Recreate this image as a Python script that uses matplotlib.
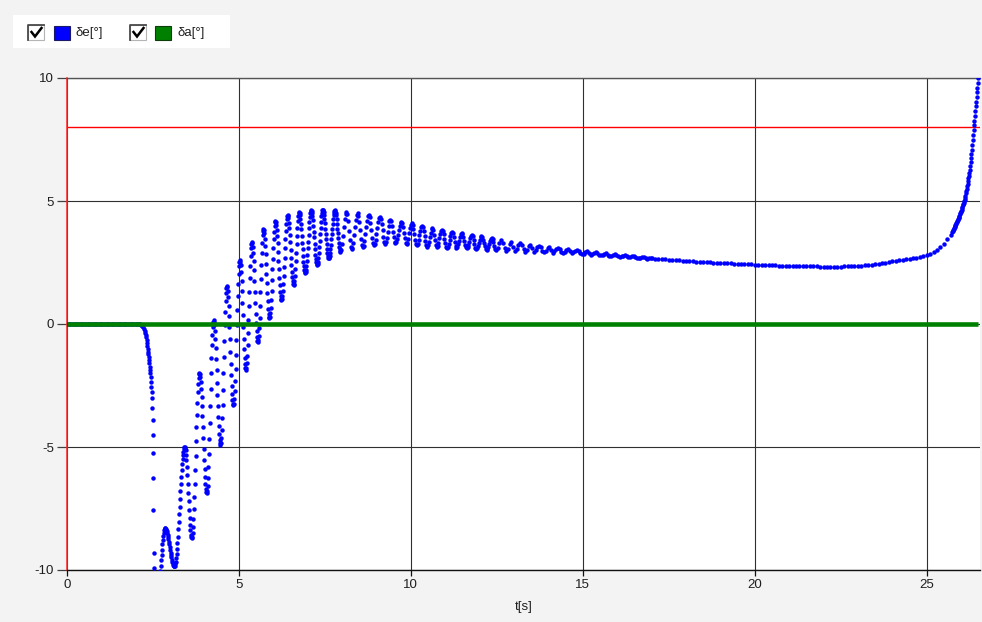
import matplotlib
matplotlib.use("Agg")
import matplotlib.pyplot as plt
from matplotlib.patches import Rectangle
from matplotlib.lines import Line2D
import numpy as np

plt.rcParams['font.family'] = ['Liberation Sans', 'DejaVu Sans']
plt.rcParams['axes.unicode_minus'] = False

# δe[°] samples, kept per stretch of the run with its own sampling step
de_rest = [0.0] * 43  # 0 .. 2.1 s, step 0.05

t_drop = [2.12, 2.16, 2.19, 2.22, 2.24, 2.26, 2.28, 2.295, 2.305, 2.315,
          2.325, 2.335, 2.345, 2.355, 2.365, 2.375, 2.385, 2.395, 2.405, 2.415,
          2.425, 2.435, 2.445, 2.455, 2.465, 2.475, 2.485, 2.49, 2.495, 2.50,
          2.505, 2.51, 2.52, 2.54]
de_drop = [-0.02, -0.05, -0.09, -0.14, -0.2, -0.27, -0.35, -0.44, -0.54, -0.65,
           -0.77, -0.89, -1.01, -1.13, -1.23, -1.33, -1.46, -1.60, -1.73, -1.87,
           -2.00, -2.14, -2.34, -2.55, -2.75, -3.02, -3.43, -3.90, -4.51, -5.26,
           -6.27, -7.56, -9.32, -9.92]

# from 2.575 s, step 0.0125
de_osc = [
    -10.30, -10.34, -10.44, -10.56, -10.66, -10.70,
    -10.68, -10.62, -10.52, -10.39, -10.22, -10.04, -9.83, -9.61, -9.39, -9.17, -8.96, -8.78, -8.61, -8.48, -8.38, -8.32, -8.30,
    -8.31, -8.33, -8.37, -8.42, -8.49, -8.57, -8.66, -8.75, -8.86, -8.96, -9.08, -9.19, -9.29, -9.40, -9.49, -9.58, -9.66, -9.73, -9.78, -9.82, -9.84, -9.85,
    -9.83, -9.77, -9.67, -9.53, -9.35, -9.14, -8.90, -8.64, -8.35, -8.05, -7.74, -7.43, -7.11, -6.80, -6.50, -6.21, -5.95, -5.71, -5.50, -5.33, -5.19, -5.08, -5.02, -5.00,
    -5.04, -5.14, -5.31, -5.54, -5.82, -6.14, -6.49, -6.85, -7.21, -7.56, -7.88, -8.16, -8.39, -8.56, -8.66, -8.70,
    -8.65, -8.50, -8.25, -7.92, -7.50, -7.03, -6.50, -5.93, -5.35, -4.77, -4.20, -3.68, -3.20, -2.78, -2.45, -2.20, -2.05, -2.00,
    -2.04, -2.16, -2.36, -2.63, -2.97, -3.34, -3.76, -4.20, -4.65, -5.09, -5.51, -5.89, -6.22, -6.49, -6.69, -6.81, -6.85,
    -6.78, -6.58, -6.26, -5.83, -5.30, -4.69, -4.04, -3.35, -2.66, -2.01, -1.40, -0.87, -0.44, -0.12, 0.08, 0.15,
    0.10, -0.04, -0.27, -0.59, -0.97, -1.41, -1.88, -2.38, -2.87, -3.34, -3.78, -4.16, -4.48, -4.71, -4.85, -4.90,
    -4.83, -4.62, -4.29, -3.84, -3.29, -2.68, -2.01, -1.34, -0.68, -0.06, 0.49, 0.94, 1.27, 1.48, 1.55,
    1.50, 1.34, 1.09, 0.75, 0.34, -0.12, -0.62, -1.13, -1.63, -2.09, -2.50, -2.84, -3.09, -3.25, -3.30,
    -3.24, -3.05, -2.74, -2.33, -1.83, -1.26, -0.66, -0.04, 0.56, 1.13, 1.63, 2.04, 2.35, 2.54, 2.60,
    2.54, 2.38, 2.11, 1.76, 1.34, 0.87, 0.38, -0.12, -0.59, -1.01, -1.37, -1.63, -1.79, -1.85,
    -1.79, -1.59, -1.29, -0.87, -0.38, 0.17, 0.74, 1.32, 1.86, 2.35, 2.77, 3.07, 3.27, 3.33,
    3.28, 3.13, 2.89, 2.56, 2.18, 1.75, 1.30, 0.85, 0.42, 0.04, -0.29, -0.53, -0.68, -0.73,
    -0.66, -0.47, -0.15, 0.26, 0.75, 1.29, 1.84, 2.38, 2.87, 3.28, 3.60, 3.79, 3.86,
    3.81, 3.68, 3.47, 3.18, 2.84, 2.45, 2.05, 1.65, 1.26, 0.92, 0.63, 0.42, 0.29, 0.24,
    0.29, 0.44, 0.67, 0.99, 1.36, 1.78, 2.22, 2.65, 3.07, 3.44, 3.76, 3.99, 4.14, 4.19,
    4.15, 4.03, 3.84, 3.58, 3.28, 2.94, 2.58, 2.22, 1.88, 1.58, 1.32, 1.13, 1.01, 0.97,
    1.01, 1.14, 1.35, 1.62, 1.95, 2.32, 2.70, 3.08, 3.45, 3.78, 4.05, 4.26, 4.39, 4.43,
    4.39, 4.29, 4.12, 3.89, 3.63, 3.33, 3.01, 2.69, 2.39, 2.13, 1.90, 1.73, 1.63, 1.59,
    1.63, 1.76, 1.96, 2.23, 2.55, 2.89, 3.25, 3.59, 3.91, 4.18, 4.38, 4.51, 4.55,
    4.52, 4.43, 4.28, 4.08, 3.85, 3.59, 3.31, 3.03, 2.77, 2.54, 2.34, 2.19, 2.10, 2.07,
    2.10, 2.20, 2.35, 2.55, 2.79, 3.07, 3.35, 3.63, 3.91, 4.15, 4.35, 4.50, 4.60, 4.63,
    4.60, 4.52, 4.39, 4.21, 4.00, 3.76, 3.52, 3.27, 3.03, 2.82, 2.64, 2.51, 2.43, 2.40,
    2.43, 2.53, 2.68, 2.89, 3.13, 3.39, 3.66, 3.92, 4.16, 4.37, 4.52, 4.62, 4.65,
    4.63, 4.55, 4.44, 4.28, 4.09, 3.88, 3.67, 3.45, 3.24, 3.05, 2.89, 2.78, 2.70, 2.68,
    2.70, 2.78, 2.89, 3.05, 3.23, 3.44, 3.66, 3.87, 4.08, 4.26, 4.42, 4.53, 4.61, 4.63,
    4.61, 4.53, 4.42, 4.26, 4.08, 3.88, 3.68, 3.48, 3.30, 3.14, 3.03, 2.95, 2.93,
]

# from 7.975 s, step 0.025
de_mid = [
    3.01, 3.24, 3.56, 3.93, 4.25, 4.48, 4.56,
    4.46, 4.18, 3.80, 3.41, 3.13, 3.03,
    3.10, 3.31, 3.60, 3.93, 4.22, 4.43, 4.50,
    4.41, 4.16, 3.82, 3.47, 3.22, 3.13,
    3.19, 3.38, 3.64, 3.93, 4.19, 4.37, 4.43,
    4.35, 4.12, 3.82, 3.51, 3.28, 3.20,
    3.26, 3.42, 3.65, 3.90, 4.13, 4.29, 4.35,
    4.28, 4.08, 3.81, 3.54, 3.34, 3.27,
    3.33, 3.51, 3.75, 3.99, 4.17, 4.23,
    4.17, 4.00, 3.76, 3.53, 3.35, 3.29,
    3.33, 3.45, 3.62, 3.82, 3.99, 4.11, 4.15,
    4.09, 3.93, 3.70, 3.48, 3.31, 3.25,
    3.31, 3.46, 3.68, 3.89, 4.04, 4.10,
    4.04, 3.88, 3.65, 3.43, 3.26, 3.20,
    3.25, 3.40, 3.60, 3.80, 3.95, 4.00,
    3.94, 3.79, 3.58, 3.36, 3.21, 3.15,
    3.20, 3.34, 3.53, 3.71, 3.85, 3.90,
    3.83, 3.63, 3.40, 3.20, 3.13,
    3.18, 3.30, 3.48, 3.65, 3.77, 3.82,
    3.77, 3.64, 3.46, 3.28, 3.15, 3.10,
    3.14, 3.26, 3.42, 3.58, 3.70, 3.74,
    3.68, 3.52, 3.32, 3.16, 3.10,
    3.14, 3.25, 3.39, 3.54, 3.64, 3.68,
    3.64, 3.53, 3.38, 3.23, 3.12, 3.08,
    3.12, 3.22, 3.35, 3.49, 3.58, 3.62,
    3.57, 3.42, 3.25, 3.10, 3.05,
    3.08, 3.18, 3.31, 3.43, 3.53, 3.56,
    3.52, 3.43, 3.29, 3.16, 3.06, 3.02,
    3.05, 3.14, 3.26, 3.38, 3.47, 3.50,
    3.45, 3.33, 3.17, 3.05, 3.00,
]

# from 12.525 s, step 0.05
de_decay = [
    3.10, 3.31, 3.41, 3.30, 3.08, 2.97, 3.06, 3.25, 3.34, 3.15, 2.96,
    3.04, 3.21, 3.29, 3.20, 3.03, 2.94, 3.01, 3.16, 3.23, 3.08, 2.93,
    3.00, 3.13, 3.19, 3.12, 2.98, 2.91, 2.97, 3.08, 3.14, 3.02, 2.90,
    2.95, 3.05, 3.10, 3.05, 2.94, 2.89, 2.93, 3.01, 3.05, 2.96, 2.87,
    2.91, 2.98, 3.01, 2.97, 2.88, 2.83, 2.86, 2.92, 2.95, 2.89, 2.82,
    2.85, 2.90, 2.92, 2.89, 2.82, 2.79, 2.81, 2.85, 2.87, 2.82, 2.76,
    2.78, 2.81, 2.83, 2.81, 2.76, 2.73, 2.75, 2.78, 2.79, 2.76, 2.72,
    2.73, 2.75, 2.76, 2.74, 2.70, 2.68, 2.69, 2.71, 2.72, 2.69, 2.66,
    2.67, 2.68, 2.69,
]

# from 17.1 s, step 0.1
de_slow = [
    2.66, 2.65, 2.64, 2.63, 2.62, 2.61, 2.60, 2.59, 2.58, 2.57,
    2.56, 2.55, 2.54, 2.53, 2.52, 2.52, 2.51, 2.50, 2.49, 2.48,
    2.47, 2.46, 2.46, 2.45, 2.44, 2.44, 2.43, 2.42, 2.42, 2.41,
    2.40, 2.40, 2.39, 2.39, 2.38, 2.38, 2.37, 2.37, 2.36, 2.36,
    2.36, 2.35, 2.35, 2.35, 2.34, 2.34, 2.34, 2.34, 2.33, 2.33,
    2.33, 2.33, 2.33, 2.33, 2.33, 2.34, 2.34, 2.35, 2.35, 2.36,
    2.37, 2.38, 2.39, 2.41, 2.43, 2.45, 2.47, 2.49, 2.52, 2.55,
    2.57, 2.59, 2.61, 2.63, 2.65, 2.67, 2.70, 2.73, 2.76, 2.80,
    2.86, 2.93, 3.02, 3.13, 3.27, 3.44, 3.62,
]

# from 25.75 s, step 0.0125
de_rise = [
    3.75, 3.79, 3.82, 3.86, 3.90, 3.94, 3.98, 4.02, 4.06, 4.10,
    4.15, 4.19, 4.23, 4.27, 4.32, 4.36, 4.41, 4.46, 4.50, 4.55,
    4.60, 4.65, 4.71, 4.76, 4.82, 4.88, 4.93, 4.99, 5.05, 5.13,
    5.22, 5.31, 5.40, 5.49, 5.59, 5.70, 5.81, 5.92, 6.03, 6.15,
    6.27, 6.42, 6.57, 6.73, 6.90, 7.08, 7.27, 7.47, 7.67, 7.87,
    8.07, 8.27, 8.47, 8.66, 8.85, 9.04, 9.23, 9.42, 9.61, 9.80,
    9.99,
]

# δa[°] stays at zero for the whole run
t_end = 26.5
da_level = 0.0

x_ticks = [0, 5, 10, 15, 20, 25]
y_ticks = [-10, -5, 0, 5, 10]
limit_value = 8


def sample_times(start, step, values):
    return start + step * np.arange(len(values))


t_de = np.concatenate([
    sample_times(0.0, 0.05, de_rest),
    t_drop,
    sample_times(2.575, 0.0125, de_osc),
    sample_times(7.975, 0.025, de_mid),
    sample_times(12.525, 0.05, de_decay),
    sample_times(17.1, 0.1, de_slow),
    sample_times(25.75, 0.0125, de_rise),
])
de = np.concatenate([de_rest, de_drop, de_osc, de_mid, de_decay, de_slow, de_rise])

t_da = np.linspace(0.0, t_end, 400)
da = [da_level] * len(t_da)

W, H = 982, 622
text_color = '#1e1e1e'


def px(x, y):
    # pixel position (from top-left) to figure fraction
    return x / W, 1 - y / H


fig = plt.figure(figsize=(W / 100, H / 100), dpi=100, facecolor='#f3f3f3')
ax = fig.add_axes([67 / W, 1 - 570 / H, (980 - 67) / W, (570 - 78) / H])
ax.set_facecolor('white')

# series
ax.plot(t_de, de, linestyle='none', marker='o', markersize=3.2,
        markeredgewidth=0, color='#0000ff', zorder=3)
ax.plot(t_da, da, color='#008000', linewidth=3.3, solid_capstyle='butt', zorder=4)

# limit line
ax.axhline(limit_value, color='#ff0000', linewidth=1.0, zorder=2)

ax.set_xlim(0, 26.55)
ax.set_ylim(-10, 10)
ax.set_xticks(x_ticks)
ax.set_yticks(y_ticks)
ax.grid(True, color='#303030', linewidth=0.8, zorder=1)
ax.set_axisbelow(True)

ax.spines['left'].set_color('#ff2020')
ax.spines['left'].set_linewidth(1.1)
ax.spines['bottom'].set_color('#111111')
ax.spines['bottom'].set_linewidth(1.0)
ax.spines['top'].set_color('#555555')
ax.spines['top'].set_linewidth(1.0)
ax.spines['right'].set_visible(False)

ax.tick_params(axis='y', length=7, width=0.9, pad=2.5, color='#404040',
               labelsize=9.5, labelcolor=text_color)
ax.tick_params(axis='x', length=4.3, width=0.9, pad=2.5, color='#111111',
               labelsize=9.5, labelcolor=text_color)

ax.set_xlabel('t[s]', fontsize=9.5, color=text_color)
ax.xaxis.set_label_coords(0.5, -(607 - 570) / (570 - 78))
ax.xaxis.label.set_va('center')

# legend with check boxes
fig.add_artist(Rectangle(px(13, 48), 217 / W, 33 / H, transform=fig.transFigure,
                         facecolor='white', edgecolor='none'))


def check_box(x0):
    fig.add_artist(Rectangle(px(x0, 40), 16 / W, 15 / H, transform=fig.transFigure,
                             facecolor='white', edgecolor='#b4b4b4', linewidth=0.8))
    fig.add_artist(Line2D([px(x0, 40)[0], px(x0, 25)[0], px(x0 + 16, 25)[0]],
                          [px(x0, 40)[1], px(x0, 25)[1], px(x0 + 16, 25)[1]],
                          transform=fig.transFigure, color='#4a4a4a', linewidth=1.3))
    pts = [px(x0 + 3.5, 32), px(x0 + 7, 36.5), px(x0 + 13.5, 28)]
    fig.add_artist(Line2D([p[0] for p in pts], [p[1] for p in pts],
                          transform=fig.transFigure, color='#000000',
                          linewidth=1.8, solid_joinstyle='miter'))


def swatch(x0, color, edge):
    fig.add_artist(Rectangle(px(x0, 39.5), 16 / W, 13.5 / H, transform=fig.transFigure,
                             facecolor=color, edgecolor=edge, linewidth=0.8))


check_box(28)
swatch(53.5, '#0000ff', '#1a1a66')
fig.text(*px(75, 33), 'δe[°]', fontsize=9.5, color=text_color, va='center', ha='left')

check_box(130)
swatch(154.5, '#008000', '#0d3d0d')
fig.text(*px(177, 33), 'δa[°]', fontsize=9.5, color=text_color, va='center', ha='left')

fig.savefig('out.png', dpi=100, facecolor=fig.get_facecolor())
